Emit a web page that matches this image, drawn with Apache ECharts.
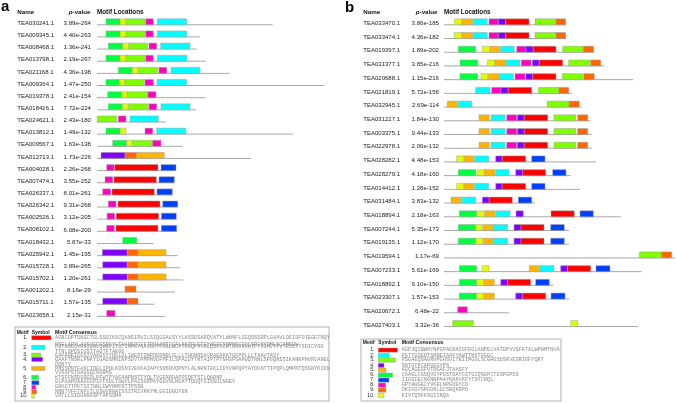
<!DOCTYPE html>
<html><head><meta charset="utf-8">
<script src="https://cdn.jsdelivr.net/npm/echarts@6/dist/echarts.min.js"></script>
<style>html,body{margin:0;padding:0;background:#fff}#c{width:676px;height:404px}</style>
</head><body><div id="c"></div>
<script>
// ---------- DATA ----------
const motifColors = ['#ff0000','#00ffff','#80ff00','#8000ff','#ffb400','#00ff40','#0040ff','#ff00bf','#ff6600','#e0ff00'];

const namesA = ['TEA030241.1','TEA009345.1','TEA008468.1','TEA013798.1','TEA021168.1','TEA009364.1','TEA019378.1','TEA018426.1','TEA024621.1','TEA013812.1','TEA009567.1','TEA012713.1','TEA004028.1','TEA007474.1','TEA026337.1','TEA026342.1','TEA002526.1','TEA008102.1','TEA018432.1','TEA025942.1','TEA015728.1','TEA015702.1','TEA001202.1','TEA015711.1','TEA023658.1'];
const pvalsA = ['3.89e-264','4.40e-263','1.36e-241','2.19e-267','4.36e-198','1.47e-250','2.41e-154','7.72e-224','2.43e-180','1.49e-132','1.63e-138','1.73e-226','2.26e-268','3.55e-252','8.01e-261','9.31e-268','3.12e-205','6.08e-200','5.87e-33','1.45e-195','3.89e-265','1.20e-261','8.16e-29','1.57e-135','2.15e-31'];
const lengthsA = [175.7,103,99.7,109,133,227.3,108.7,99,69,195.7,85.7,154,79,77.3,75.3,80.7,79.3,79.7,56.3,80.7,83.3,86.3,78,57.5,68];
// per row: [motif, start, end]
const motifsA = [
 [[6,9,23],[10,23,29],[3,29,48],[8,48.7,56.3],[2,60.3,89.7]],
 [[6,9,23],[10,23,29],[3,29,48],[8,48.7,56.3],[2,60.3,89.7]],
 [[6,11.3,25.7],[10,25.7,31.7],[3,31.7,50.7],[8,52,59.7],[2,63.7,93]],
 [[6,9,23],[10,23,29],[3,29,48],[8,48.7,56.3],[2,60.3,89.7]],
 [[6,21.3,35.3],[10,35.3,41.3],[3,41.3,61],[8,62,69.7],[2,74,103]],
 [[6,9,22.3],[10,22.3,28],[3,28,47.3],[8,48,56.3],[2,60,89.7]],
 [[6,10.7,24.7],[10,24.7,30.3],[3,30.3,51],[8,51,59]],
 [[6,11.3,25.3],[10,25.3,31.3],[3,31.3,51.3],[8,52,59.7],[2,64,93]],
 [[3,0.3,19.7],[8,21.3,29],[2,33,61.3]],
 [[6,9,23],[10,23,29],[8,48,55.7],[2,59.7,88.7]],
 [[6,15.7,29.7],[10,29.7,35.3],[3,35.3,55.7],[8,55.7,64]],
 [[4,4,28],[9,28,39.7],[5,39.7,67.3]],
 [[8,9.7,17],[1,17.7,61],[7,64,79]],
 [[8,8,15.7],[1,17,59.3],[7,62,77.3]],
 [[8,5.7,13.7],[1,15,57.3],[7,60,75.3]],
 [[8,11.3,19],[1,21,63],[7,65.7,80.7]],
 [[8,10,17.7],[1,19.3,61.7],[7,64.3,79.3]],
 [[8,9.7,17.3],[1,19,61],[7,64.3,79.7]],
 [[6,25.7,39.7]],
 [[4,5.3,30.3],[9,30.3,41],[5,41,69]],
 [[4,5.7,30.3],[9,30.3,41],[5,41,69]],
 [[4,5.7,30.3],[9,30.3,41.3],[5,41.3,69]],
 [[9,28,39]],
 [[4,5.7,30.3],[9,30.3,41]],
 [[8,9.7,18]]
];

const namesB = ['TEA033470.1','TEA033474.1','TEA019397.1','TEA031377.1','TEA020688.1','TEA021819.1','TEA032945.1','TEA031227.1','TEA003375.1','TEA022978.1','TEA028282.1','TEA028279.1','TEA014412.1','TEA031484.1','TEA018894.1','TEA007244.1','TEA019135.1','TEA019594.1','TEA007233.1','TEA018892.1','TEA023307.1','TEA020672.1','TEA027403.1'];
const pvalsB = ['3.86e-185','4.36e-182','1.89e-202','3.85e-216','1.15e-216','5.72e-156','2.69e-114','1.84e-130','9.44e-133','2.06e-132','4.48e-153','4.18e-160','1.28e-152','3.83e-132','2.18e-163','5.35e-173','1.12e-170','1.17e-69','5.61e-169','9.10e-150','1.57e-153','6.48e-22','3.32e-36'];
const lengthsB = [121.7,121.7,149.7,160,189.3,127.7,137.7,146.7,147.7,147.7,152,126.7,136,91,176.7,125,125,231,197.7,109.3,125.3,65,194.3];
const motifsB = [
 [[10,10.3,18],[5,18,28.7],[2,29.3,43.3],[8,45,54.3],[4,54.3,61.7],[1,61.7,85],[3,91,112],[9,112,121.7]],
 [[10,10.3,18],[5,18,28.7],[2,29.3,43.3],[8,45,54.3],[4,54.3,61.7],[1,61.7,85],[3,91,112],[9,112,121.7]],
 [[6,14.3,31.7],[10,38.7,46],[5,46,56],[2,56.7,70.3],[8,72.7,82],[4,82,89.3],[1,89.3,112],[3,118.7,139.3],[9,139.3,149.7]],
 [[6,16,33.7],[10,43.3,51],[5,51,61.7],[2,62,76],[8,77.3,87],[4,88.3,95.3],[1,95.3,118.7],[3,124.7,146],[9,146.7,156.7]],
 [[6,16,33.7],[10,37,43.7],[5,44.3,55],[2,55.3,69.3],[8,71,81],[4,81.7,88.7],[1,88.7,112],[3,118.3,139.3],[9,140,150.3]],
 [[2,31.7,46],[8,47.7,57],[4,57,64.3],[1,64.3,87.7],[3,94.3,115],[9,115,124.7]],
 [[5,3.3,13.3],[2,14,27.7],[3,103.3,125],[9,125,135.3]],
 [[5,35,45.3],[2,47,61],[8,62.7,72.7],[4,73.3,80.3],[1,80.3,103.7],[3,110,132],[9,133.7,143.7]],
 [[5,35,45.3],[2,47,61],[8,62.7,72.7],[4,73.3,80.3],[1,80.3,103.7],[3,110,132],[9,133.7,143.7]],
 [[5,35,45.3],[2,47,61],[8,62.7,72.7],[4,73.3,80.3],[1,80.3,103.7],[3,110,132],[9,133.7,143.7]],
 [[10,12.7,20],[5,20,30],[2,30.7,44.7],[4,51.7,58.3],[1,58.3,81.7],[7,87.7,101]],
 [[6,14.3,31.7],[10,33.7,40.3],[5,40.3,51],[2,51.7,65],[4,71.7,78.7],[1,78.7,101.7],[7,108.7,122]],
 [[10,12.7,20],[5,20,30],[2,30.7,44.7],[4,51.7,58.3],[1,58.3,81.7],[7,87.7,101]],
 [[5,7,17],[2,17.7,31.7],[4,38.3,45.3],[1,45.3,68.3],[7,74.3,87.7]],
 [[6,15.3,32.7],[10,33.7,40.3],[5,41,51],[2,51.7,66],[4,72,79.3],[1,107,130.3],[7,136,149.3]],
 [[6,14.3,31.7],[10,31.7,38.7],[5,39.3,49.3],[2,49.3,63.7],[4,70,77],[1,77,100],[7,106.7,120.3]],
 [[6,14.3,31.7],[10,31.7,38.7],[5,39.3,49.3],[2,49.3,63.7],[4,70,77],[1,77,100],[7,106.7,120.3]],
 [[3,195.3,217.7],[9,217.7,227.7]],
 [[6,15.3,32.7],[10,38.3,45],[5,85.3,95.3],[2,96,110],[4,116.7,123.7],[1,123.7,146.7],[7,152,166]],
 [[6,15.3,32.7],[10,32.7,40],[5,40,50.3],[4,56.7,63.7],[1,63.7,86.7],[7,91.7,105.3]],
 [[6,15.3,32.7],[10,32.7,40],[5,40,50.3],[4,71.7,78.7],[1,78.7,101.7],[7,107,121]],
 [[8,13.7,23.3]],
 [[3,8.7,29.3],[10,126.7,133.7]]
];

// legend consensus text (panel a wraps over several lines)
const consensusA = [
 ['AGNCDPTSNGCTGLSSDIKSCQANGIRVILSIQGGAGSYYLASSDSARQVATYLWNNFLGGQSSSRPLGAAVLDGIDFDIEGGTNQY'],
 ['NSGLARYLAGSVGGFSRYYLTAANSQCFFTPDAAMIGGALASTFLETGYWGCFSNPNSCCQLSRCNYDMLSCAMSDW','PGTGAGSVRNIWNLQWWPITDTINMCYNAVNKYFNGLWCFYGNQFVVRLQSFSCWTRGGRVHTFTKSMVTFVYRSSTYSDICYSG','TTNLSPDSIGSITAGTFTAEGG'],
 ['GAFAREIGGSIVAAGSTYDGLGLIWEPTQNPDGRNNLGLLLTHDNRSAVRAEAKATGKPPLLLTAAVTASY'],
 ['QAAFTNSRLPNKYIGADSMNINPSDVTPMPMVDFMFILSPAIDYTNTAIPTPTNHSPSAPWDTNNLSPGQNSSIKANNPNVRVANEL','DQNTY'],
 ['PNSSPNTFAKCIQGLIPNLKDSNIVEKKAIAPYSNSNVQPNYLALNHNTGKLIDYVNPQPYAYDKNTTIPQPLQMPKTQSSNYKIKN','VVSSPSTDAGSQLNSRMS'],
 ['KTSFFNSDSRGDLPFWTPYAFANPNSTTYQLTVGFNRDAPPSQFTSTLQARNP'],
 ['GLPAAPDAAGGGPIFFSDLTGWVLPAISGKPKYGGVNLNGKYTDGQTGISSGINGEV'],
 ['GNKGTTPKTSITNNLDWVNMFSTTPSSN'],
 ['NNNTVFFTNPVILGSWVRNAISSITRIVRKYMLGGIDGDYEN'],
 ['VRTLLSIDGRRGSPTAPSSMA']
];
const consensusB = ['KGPJQIBWNYNPGPAGRAIGFDGLANPELVATDPVVSFKTALWPWMTNVA','PGTTGDEDTSRNEIAAFYAWTTNKTGGGC','PSGAEQSAGRVPGHSVITNIIMGGLSCGHGSDSRVEDRIGFYQRY','SNTGYPCAPGKGYPS','AGCAGESFVTRGAFJTAASFY','CAAGLCGSQVGYPGSTDAYCGTGCQSGPCTGSPGPSS','IIGSIECNGNNPAAYNAKVKFYTDYCNQL','GPYAWGECYVKELNPGDGYCD','DKIFGVSPGDNLDCSNQKRPG','KIVTQSFFSGIINQA'];

// ---------- LAYOUT / STYLE ----------
const FONT = 'Liberation Sans, Arial, sans-serif';
const MONO = 'Liberation Mono, monospace';
const chart = echarts.init(document.getElementById('c'), null, {renderer:'canvas'});

function lineSeries(ax, lengths){
  return {type:'custom', xAxisIndex:ax, yAxisIndex:ax, clip:false, silent:true,
    encode:{x:1,y:0}, data: lengths.map((l,i)=>[i,l]),
    renderItem:(p,api)=>{ const a=api.coord([0,api.value(0)]), b=api.coord([api.value(1),api.value(0)]);
      return {type:'line', shape:{x1:a[0],y1:a[1]+1.5,x2:b[0],y2:b[1]+1.5}, style:{stroke:'#a8a8a8',lineWidth:1}}; }};
}
function motifSeries(ax, motifs){
  const data=[]; motifs.forEach((row,i)=>row.forEach(m=>data.push([i,m[1],m[2],m[0]])));
  return {type:'custom', xAxisIndex:ax, yAxisIndex:ax, clip:false, silent:true,
    encode:{x:[1,2],y:0}, data,
    renderItem:(p,api)=>{ const r=api.value(0); const a=api.coord([api.value(1),r]), b=api.coord([api.value(2),r]);
      return {type:'rect', shape:{x:a[0],y:a[1]-4.5,width:b[0]-a[0],height:6}, style:{fill:motifColors[api.value(3)-1],stroke:'#a0a0a0',lineWidth:0.5}}; }};
}
function labelSeries(ax, names, pvals, nameX, pRight){
  return {type:'custom', xAxisIndex:ax, yAxisIndex:ax, clip:false, silent:true,
    encode:{x:1,y:0}, data: names.map((n,i)=>[i,0]),
    renderItem:(p,api)=>{ const y=api.coord([0,api.value(0)])[1]; const i=p.dataIndex;
      return {type:'group', children:[
        {type:'text', x:nameX, y:y, style:{text:names[i], font:'6px '+FONT, fill:'#222', align:'left', verticalAlign:'middle'}},
        {type:'text', x:pRight, y:y, style:{text:pvals[i], font:'6.1px '+FONT, fill:'#222', align:'right', verticalAlign:'middle'}}
      ]}; }};
}

const g = [];
function txt(x,y,t,font,fill,align,extra){ g.push(Object.assign({type:'text', x, y, silent:true, style:Object.assign({text:t, font, fill:fill||'#111', align:align||'left', verticalAlign:'middle'}, extra||{})})); }
// panel letters
txt(1,7,'a','bold 15px '+FONT,'#000');
txt(345,7.5,'b','bold 15px '+FONT,'#000');
// headers
function headers(nx, pr, mx, y){
  txt(nx,y,'Name','bold 6.2px '+FONT,'#111');
  txt(pr,y,'{i|p}-value','bold 6.2px '+FONT,'#111','right',{rich:{i:{fontStyle:'italic',fontWeight:'bold',fontSize:6.2,fontFamily:FONT,fill:'#111'}}});
  txt(mx,y,'Motif Locations','bold 6.3px '+FONT,'#111');
}
headers(17.3,90.5,97,12);
headers(363.3,437.5,444,12.7);

// legend boxes
function legendBox(x,y,w,h,numX,swX,csX,headY,rows,swW,lines){
  g.push({type:'rect', silent:true, shape:{x,y,width:w,height:h}, style:{fill:'none',stroke:'#b0b0b0',lineWidth:1}});
  txt(x+1.7,headY,'Motif','bold 5px '+FONT,'#111');
  txt(swX,headY,'Symbol','bold 5px '+FONT,'#111');
  txt(csX,headY,'Motif Consensus','bold 5.2px '+FONT,'#111');
  rows.forEach((ry,i)=>{
    txt(numX,ry,(i+1)+'.','5px '+FONT,'#222','right');
    g.push({type:'rect', silent:true, shape:{x:swX,y:ry-2,width:swW[i],height:4.2}, style:{fill:motifColors[i],stroke:'#a0a0a0',lineWidth:0.5}});
  });
  lines.forEach(l=>txt(csX,l[0],l[1],'5.28px '+MONO,'#8a8a8a'));
}
const rowYA=[337.7,347.3,355,359.3,368.3,377.3,382.7,387.3,391.7,396];
const swWA=[19.3,13.3,9,11,13.3,6.7,7.3,4,5,2.7];
const lineYA=[[337.7],[344.3,346.9,351.6],[355.2],[359.6,364.2],[368.6,372.8],[377.3],[382.1],[386.6],[391.2],[395.6]];
const linesA=[]; consensusA.forEach((arr,i)=>arr.forEach((s,j)=>linesA.push([lineYA[i][j],s])));
legendBox(15,327,314,74,27.3,31.7,55,332.3,rowYA,swWA,linesA);

const rowYB=[350,355.3,360,365.3,370,375,380,385,390,395.3];
const swWB=[19.3,11,17.3,5.7,7.7,14.3,10.7,7.3,7.7,5.7];
legendBox(361,339,200,62,374.3,378.3,401.7,342.5,rowYB,swWB,consensusB.map((s,i)=>[rowYB[i],s]));

const option = {
  animation:false,
  backgroundColor:'#fff',
  grid:[{left:97,top:17.2,width:240,height:303.75},{left:444,top:16.45,width:232,height:315.4}],
  xAxis:[{gridIndex:0,type:'value',min:0,max:240,show:false},{gridIndex:1,type:'value',min:0,max:232,show:false}],
  yAxis:[{gridIndex:0,type:'category',data:namesA,inverse:true,show:false},{gridIndex:1,type:'category',data:namesB,inverse:true,show:false}],
  series:[lineSeries(0,lengthsA),motifSeries(0,motifsA),labelSeries(0,namesA,pvalsA,17.3,91),
          lineSeries(1,lengthsB),motifSeries(1,motifsB),labelSeries(1,namesB,pvalsB,363.3,439)],
  graphic:{elements:g}
};
chart.setOption(option);
</script></body></html>
